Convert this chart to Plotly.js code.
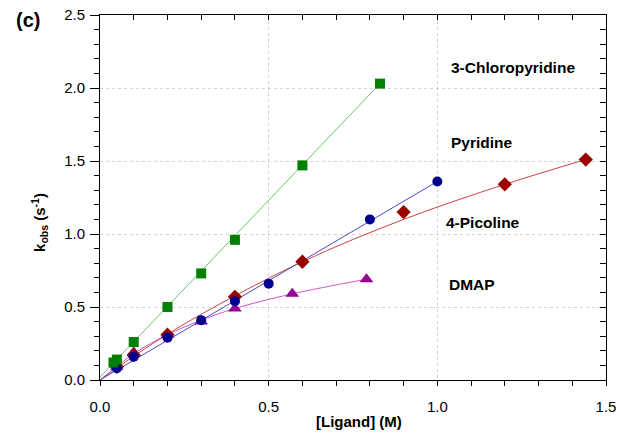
<!DOCTYPE html>
<html>
<head>
<meta charset="utf-8">
<script src="https://cdn.plot.ly/plotly-3.0.1.min.js"></script>
<style>html,body{margin:0;padding:0;background:#fff;}#chart{width:619px;height:433px;}</style>
</head>
<body>
<div id="chart"></div>
<script>
// Data
const chloroX = [0.04, 0.05, 0.1, 0.2, 0.3, 0.4, 0.6, 0.83];
const chloroY = [0.12, 0.14, 0.26, 0.50, 0.73, 0.96, 1.47, 2.03];
const chloroFitX = [0, 0.83];
const chloroFitY = [0.02, 2.03];

const pyrX = [0.05, 0.1, 0.2, 0.3, 0.4, 0.5, 0.8, 1.0];
const pyrY = [0.08, 0.16, 0.29, 0.41, 0.54, 0.66, 1.10, 1.36];
const pyrFitX = [0, 1.0];
const pyrFitY = [0, 1.36];

const picX = [0.05, 0.1, 0.2, 0.4, 0.6, 0.9, 1.2, 1.44];
const picY = [0.09, 0.17, 0.31, 0.57, 0.81, 1.15, 1.34, 1.51];
const picFitX = [0, 0.15, 0.3, 0.6, 0.9, 1.2, 1.44];
const picFitY = [0, 0.24, 0.45, 0.81, 1.10, 1.34, 1.51];

const dmapX = [0.05, 0.1, 0.2, 0.3, 0.4, 0.57, 0.79];
const dmapY = [0.09, 0.19, 0.31, 0.40, 0.49, 0.59, 0.69];
const dmapFitX = [0, 0.1, 0.2, 0.3, 0.4, 0.57, 0.79];
const dmapFitY = [0, 0.18, 0.31, 0.41, 0.49, 0.59, 0.69];

const labels = ['3-Chloropyridine', 'Pyridine', '4-Picoline', 'DMAP'];
const labelX = [1.035, 1.035, 1.02, 1.03];
const labelY = [2.14, 1.63, 1.08, 0.655];

const FONT = 'Liberation Sans, Arial, sans-serif';

function fit(x, y, color, shape) {
  return {x: x, y: y, mode: 'lines', type: 'scatter', hoverinfo: 'skip',
    line: {color: color, width: 1, shape: shape || 'linear', smoothing: 1}, showlegend: false};
}
function pts(x, y, color, symbol, size) {
  return {x: x, y: y, mode: 'markers', type: 'scatter', showlegend: false,
    marker: {color: color, symbol: symbol, size: size, line: {width: 0}}};
}

const traces = [
  fit(chloroFitX, chloroFitY, '#6cc46c'),
  fit(dmapFitX, dmapFitY, '#cc55cc', 'spline'),
  fit(picFitX, picFitY, '#cc4444', 'spline'),
  fit(pyrFitX, pyrFitY, '#4a4ad0'),
  pts(dmapX, dmapY, '#990099', 'triangle-up', 12),
  pts(picX, picY, '#990000', 'diamond', 11),
  pts(pyrX, pyrY, '#000090', 'circle', 10),
  pts(chloroX, chloroY, '#008000', 'square', 10),
  {x: [], y: [], xaxis: 'x2', yaxis: 'y2', type: 'scatter', showlegend: false}
];

const annotations = labels.map((t, i) => ({
  x: labelX[i], y: labelY[i], xref: 'x', yref: 'y', text: '<b>' + t + '</b>',
  showarrow: false, xanchor: 'left', yanchor: 'middle',
  font: {family: FONT, size: 15.5, color: '#000'}
}));
annotations.push({x: -0.142, y: 0.986, xref: 'paper', yref: 'paper', text: '<b>(c)</b>',
  showarrow: false, xanchor: 'center', yanchor: 'middle', font: {family: FONT, size: 20, color: '#000'}});
annotations.push({x: 0.512, y: -0.114, xref: 'paper', yref: 'paper', text: '<b>[Ligand] (M)</b>',
  showarrow: false, xanchor: 'center', yanchor: 'middle', font: {family: FONT, size: 15, color: '#000'}});
annotations.push({x: -0.1186, y: 0.433, xref: 'paper', yref: 'paper', text: '<b>k<sub>obs</sub> (s<sup>-1</sup>)</b>',
  showarrow: false, textangle: -90, xanchor: 'center', yanchor: 'middle', font: {family: FONT, size: 15, color: '#000'}});

const layout = {
  width: 619, height: 433,
  margin: {l: 100, r: 13, t: 15, b: 53},
  paper_bgcolor: '#fff', plot_bgcolor: '#fff',
  font: {family: FONT, size: 15, color: '#000'},
  showlegend: false,
  xaxis: {
    range: [0, 1.5], tick0: 0, dtick: 0.5, tickformat: '.1f',
    ticks: 'outside', ticklen: 5, tickcolor: '#000', tickwidth: 1,
    ticklabelstandoff: 8,
    showline: true, linecolor: '#000', linewidth: 1,
    showgrid: true, gridcolor: '#d2d2d2', griddash: '3px,3px', gridwidth: 1,
    zeroline: false,
    minor: {dtick: 0.1, ticks: 'outside', ticklen: 5, tickcolor: '#000', showgrid: false},
    tickfont: {family: FONT, size: 15, color: '#000'}
  },
  yaxis: {
    range: [0, 2.5], tick0: 0, dtick: 0.5, tickformat: '.1f',
    ticks: 'outside', ticklen: 9, tickcolor: '#000', tickwidth: 1,
    ticklabelstandoff: 2,
    showline: true, linecolor: '#000', linewidth: 1,
    showgrid: true, gridcolor: '#d2d2d2', griddash: '3px,3px', gridwidth: 1,
    zeroline: false,
    minor: {dtick: 0.1, ticks: 'outside', ticklen: 5, tickcolor: '#000', showgrid: false},
    tickfont: {family: FONT, size: 15, color: '#000'}
  },
  xaxis2: {
    overlaying: 'x', side: 'top', anchor: 'y2', range: [0, 1.5], dtick: 0.5,
    ticks: 'inside', ticklen: 5, tickcolor: '#000', showticklabels: false,
    showline: true, linecolor: '#000', linewidth: 1, showgrid: false, zeroline: false,
    minor: {dtick: 0.1, ticks: 'inside', ticklen: 5, tickcolor: '#000', showgrid: false}
  },
  yaxis2: {
    overlaying: 'y', side: 'right', anchor: 'x2', range: [0, 2.5], dtick: 0.5,
    ticks: 'inside', ticklen: 6, tickcolor: '#000', showticklabels: false,
    showline: true, linecolor: '#000', linewidth: 1, showgrid: false, zeroline: false,
    minor: {dtick: 0.1, ticks: 'inside', ticklen: 6, tickcolor: '#000', showgrid: false}
  },
  annotations: annotations
};

Plotly.newPlot('chart', traces, layout, {displayModeBar: false, staticPlot: true});
</script>
</body>
</html>
